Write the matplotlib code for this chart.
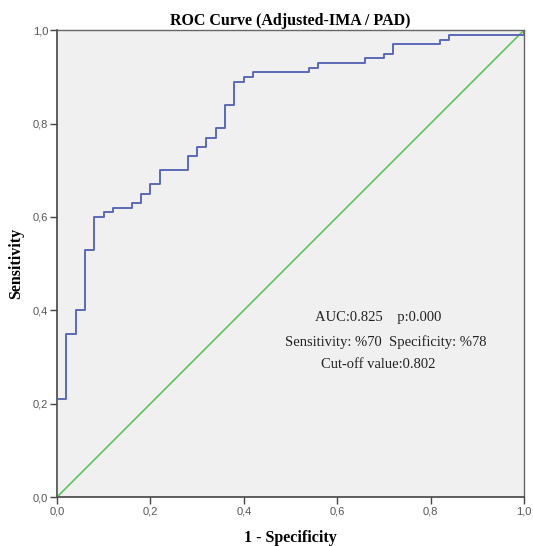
import numpy as np
import matplotlib
matplotlib.use('Agg')
import matplotlib.pyplot as plt

# ROC step points (1 - specificity, sensitivity)
fpr = [0.00, 0.00, 0.02, 0.02, 0.04, 0.04, 0.06, 0.06, 0.08, 0.08, 0.10, 0.10,
       0.12, 0.12, 0.16, 0.16, 0.18, 0.18, 0.20, 0.20, 0.22, 0.22, 0.28, 0.28,
       0.30, 0.30, 0.32, 0.32, 0.34, 0.34, 0.36, 0.36, 0.38, 0.38, 0.40, 0.40,
       0.42, 0.42, 0.54, 0.54, 0.56, 0.56, 0.66, 0.66, 0.70, 0.70, 0.72, 0.72,
       0.82, 0.82, 0.84, 0.84, 1.00, 1.00]
tpr = [0.00, 0.21, 0.21, 0.35, 0.35, 0.40, 0.40, 0.53, 0.53, 0.60, 0.60, 0.61,
       0.61, 0.62, 0.62, 0.63, 0.63, 0.65, 0.65, 0.67, 0.67, 0.70, 0.70, 0.73,
       0.73, 0.75, 0.75, 0.77, 0.77, 0.79, 0.79, 0.84, 0.84, 0.89, 0.89, 0.90,
       0.90, 0.91, 0.91, 0.92, 0.92, 0.93, 0.93, 0.94, 0.94, 0.95, 0.95, 0.97,
       0.97, 0.98, 0.98, 0.99, 0.99, 1.00]
ref_line = [0.0, 1.0]

ticks = [0.0, 0.2, 0.4, 0.6, 0.8, 1.0]
tick_labels = ['0,0', '0,2', '0,4', '0,6', '0,8', '1,0']

stats_lines = ['AUC:0.825    p:0.000',
               'Sensitivity: %70  Specificity: %78',
               'Cut-off value:0.802']

serif = ['Liberation Serif', 'DejaVu Serif']
sans = ['Liberation Sans', 'DejaVu Sans']

fig = plt.figure(figsize=(5.33, 5.46), dpi=100)
ax = fig.add_axes([0.107, 0.0897, 0.876, 0.855])
ax.set_facecolor('#f0f0f0')

ax.plot(fpr, tpr, color='#5b6ab8', linewidth=1.4, zorder=3)
ax.plot(ref_line, ref_line, color='#5cc35c', linewidth=1.2, zorder=2)

ax.set_xlim(0, 1)
ax.set_ylim(0, 1)
ax.set_xticks(ticks)
ax.set_yticks(ticks)
ax.set_xticklabels(tick_labels, family=sans, fontsize=8, color='#555555')
ax.set_yticklabels(tick_labels, family=sans, fontsize=8, color='#555555')
ax.tick_params(direction='out', length=5, width=1, color='#444444', pad=1.5)

for side in ['left', 'bottom']:
    ax.spines[side].set_color('#444444')
    ax.spines[side].set_linewidth(1.2)
for side in ['top', 'right']:
    ax.spines[side].set_color('#666666')
    ax.spines[side].set_linewidth(1.0)

ax.set_title('ROC Curve (Adjusted-IMA / PAD)', family=serif, fontsize=11.5,
             fontweight='bold', pad=4)
ax.set_xlabel('1 - Specificity', family=serif, fontsize=11.5, fontweight='bold', labelpad=10)
ax.set_ylabel('Sensitivity', family=serif, fontsize=11.5, fontweight='bold', labelpad=6)

for text, xv, yv in zip(stats_lines, [0.688, 0.703, 0.687], [0.384, 0.331, 0.283]):
    ax.text(xv, yv, text, family=serif, fontsize=10.5, color='#222222',
            ha='center', va='center')

fig.savefig('out.png', dpi=100)
